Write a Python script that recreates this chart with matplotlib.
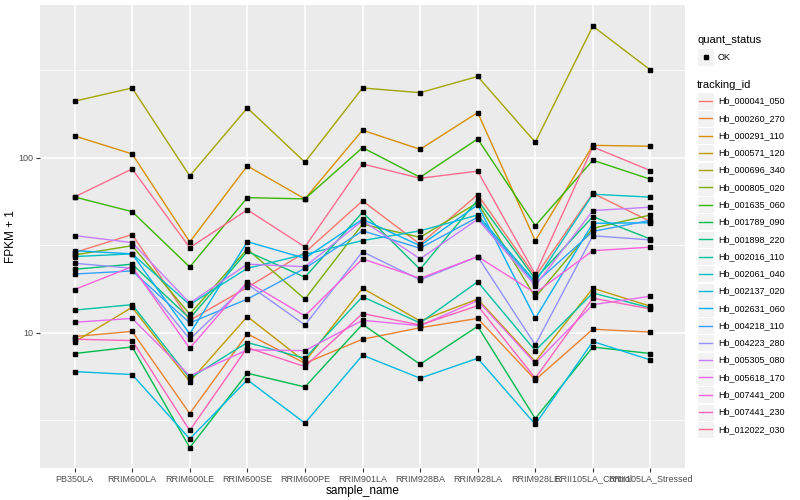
import matplotlib
matplotlib.use("Agg")
import matplotlib.pyplot as plt
from matplotlib.ticker import FixedLocator, FixedFormatter, NullFormatter
from matplotlib.patches import Rectangle
from matplotlib.lines import Line2D

plt.rcParams['font.family'] = ['Liberation Sans', 'DejaVu Sans']

samples = ["PB350LA", "RRIM600LA", "RRIM600LE", "RRIM600SE", "RRIM600PE", "RRIM901LA",
           "RRIM928BA", "RRIM928LA", "RRIM928LE", "RRII105LA_Control", "RRII105LA_Stressed"]

tracking_ids = ["Hb_000041_050", "Hb_000260_270", "Hb_000291_110", "Hb_000571_120",
                "Hb_000696_340", "Hb_000805_020", "Hb_001635_060", "Hb_001789_090",
                "Hb_001898_220", "Hb_002016_110", "Hb_002061_040", "Hb_002137_020",
                "Hb_002631_060", "Hb_004218_110", "Hb_004223_280", "Hb_005305_080",
                "Hb_005618_170", "Hb_007441_200", "Hb_007441_230", "Hb_012022_030"]

# FPKM + 1 (one list per gene, in sample order)
hb_000041_050 = [28.8, 36.5, 11.8, 18.2, 28.8, 56.8, 32.1, 61.7, 21.0, 62.8, 43.3]
hb_000260_270 = [9.53, 10.2, 3.46, 9.87, 6.71, 9.2, 10.7, 12.1, 5.39, 10.5, 10.1]
hb_000291_110 = [133.5, 105.4, 33.1, 90.0, 58.3, 144.0, 112.0, 181.6, 33.6, 118.0, 116.6]
hb_000571_120 = [8.89, 14.0, 5.27, 12.4, 6.86, 18.0, 11.7, 15.6, 6.86, 18.0, 14.2]
hb_000696_340 = [211.0, 251.0, 78.9, 193.0, 94.5, 251.0, 236.0, 292.0, 123.0, 566.0, 318.0]
hb_000805_020 = [27.9, 31.5, 12.8, 30.1, 15.6, 41.8, 35.2, 55.5, 16.0, 39.6, 47.2]
hb_001635_060 = [59.8, 49.3, 23.8, 59.3, 58.3, 114.5, 77.5, 128.4, 41.0, 97.0, 75.5]
hb_001789_090 = [7.62, 8.32, 2.21, 5.88, 4.91, 11.2, 6.62, 10.9, 3.24, 8.3, 7.62]
hb_001898_220 = [23.1, 24.7, 12.1, 29.2, 20.8, 48.9, 23.1, 57.5, 20.3, 46.2, 34.4]
hb_002016_110 = [13.5, 14.5, 5.51, 8.81, 7.16, 16.1, 11.4, 19.6, 7.92, 16.9, 13.9]
hb_002061_040 = [27.3, 28.3, 14.5, 23.4, 28.1, 33.7, 38.3, 47.2, 19.6, 62.0, 59.7]
hb_002137_020 = [6.01, 5.78, 2.48, 5.39, 3.05, 7.46, 5.51, 7.16, 3.0, 8.93, 7.0]
hb_002631_060 = [29.5, 28.3, 9.87, 33.2, 26.7, 44.6, 31.5, 53.9, 12.1, 42.3, 42.6]
hb_004218_110 = [21.7, 22.6, 11.4, 15.6, 23.4, 38.3, 30.5, 45.8, 19.2, 38.0, 44.0]
hb_004223_280 = [25.0, 23.4, 9.2, 19.0, 11.1, 29.1, 20.1, 27.3, 8.55, 35.9, 34.0]
hb_005305_080 = [36.0, 32.8, 14.8, 24.7, 23.9, 43.8, 26.5, 44.6, 18.6, 50.0, 52.3]
hb_005618_170 = [11.5, 12.1, 5.68, 8.0, 7.92, 11.8, 11.0, 15.3, 6.71, 14.5, 16.2]
hb_007441_200 = [17.7, 23.9, 8.17, 19.6, 12.5, 26.5, 20.5, 27.3, 16.9, 29.5, 30.9]
hb_007441_230 = [9.2, 9.04, 2.77, 8.24, 6.42, 12.9, 11.1, 14.3, 5.51, 15.8, 13.7]
hb_012022_030 = [59.8, 86.5, 30.7, 50.5, 31.0, 92.4, 76.5, 84.0, 21.6, 115.6, 84.6]

values = [hb_000041_050, hb_000260_270, hb_000291_110, hb_000571_120, hb_000696_340,
          hb_000805_020, hb_001635_060, hb_001789_090, hb_001898_220, hb_002016_110,
          hb_002061_040, hb_002137_020, hb_002631_060, hb_004218_110, hb_004223_280,
          hb_005305_080, hb_005618_170, hb_007441_200, hb_007441_230, hb_012022_030]

# ggplot hue palette, 20 levels
colors = ["#F8766D", "#EA8331", "#D89000", "#C09B00", "#A3A500", "#7CAE00", "#39B600",
          "#00BB4E", "#00BF7D", "#00C1A3", "#00BFC4", "#00BAE0", "#00B0F6", "#35A2FF",
          "#9590FF", "#C77CFF", "#E76BF3", "#FA62DB", "#FF62BC", "#FF6C91"]

W, H = 800, 500
fig = plt.figure(figsize=(W / 100, H / 100), dpi=100)
ax = fig.add_axes([40 / W, 32 / H, 645 / W, 463 / H])
ax.set_facecolor("#EBEBEB")
for s in ax.spines.values():
    s.set_visible(False)

x = list(range(len(samples)))
for vals, col in zip(values, colors):
    ax.plot(x, vals, color=col, lw=1.0, zorder=3)
for vals in values:
    ax.plot(x, vals, 's', color='black', ms=2.4, zorder=4, ls='none')

ax.set_yscale('log')
ax.set_ylim(1.69, 748)
ax.set_xlim(-0.6, len(samples) - 0.4)

ax.xaxis.set_major_locator(FixedLocator(x))
ax.xaxis.set_major_formatter(FixedFormatter(samples))
ax.yaxis.set_major_locator(FixedLocator([10, 100]))
ax.yaxis.set_major_formatter(FixedFormatter(["10", "100"]))
ax.yaxis.set_minor_locator(FixedLocator([10 ** 0.5, 10 ** 1.5, 10 ** 2.5]))
ax.yaxis.set_minor_formatter(NullFormatter())

ax.grid(which='major', color='white', lw=1.1, zorder=1)
ax.grid(which='minor', axis='y', color='white', lw=0.5, zorder=1)
ax.set_axisbelow(True)
ax.tick_params(which='major', length=2.7, width=0.8, color='#333333',
               labelsize=6.5, labelcolor='#4D4D4D', pad=2)
ax.tick_params(which='minor', length=0)

ax.set_xlabel("sample_name", fontsize=8.5, labelpad=1)
ax.set_ylabel("FPKM + 1", fontsize=8.5, labelpad=1)


def fx(px):
    return px / W


def fy(py):
    return 1 - py / H


# legend: quant_status
key = 17
kx = 697
fig.text(fx(kx), fy(40), "quant_status", fontsize=8, va='center', ha='left')
fig.add_artist(Rectangle((fx(kx), fy(57 + key / 2)), key / W, key / H,
                         transform=fig.transFigure, facecolor='#F2F2F2', edgecolor='white', lw=0.8))
fig.add_artist(Line2D([fx(kx + key / 2)], [fy(57)], marker='s', color='black', ms=2.4,
                      transform=fig.transFigure))
fig.text(fx(kx + key + 4), fy(57), "OK", fontsize=6.5, va='center', ha='left')

# legend: tracking_id
fig.text(fx(kx), fy(85), "tracking_id", fontsize=8, va='center', ha='left')
step = 17.28
for i, (name, col) in enumerate(zip(tracking_ids, colors)):
    cy = 101 + i * step
    fig.add_artist(Rectangle((fx(kx), fy(cy + key / 2)), key / W, key / H,
                             transform=fig.transFigure, facecolor='#F2F2F2', edgecolor='white', lw=0.8))
    fig.add_artist(Line2D([fx(kx + 2), fx(kx + key - 2)], [fy(cy), fy(cy)], color=col, lw=1.0,
                          transform=fig.transFigure))
    fig.text(fx(kx + key + 4), fy(cy), name, fontsize=6.5, va='center', ha='left')

fig.savefig("out.png", dpi=100)
